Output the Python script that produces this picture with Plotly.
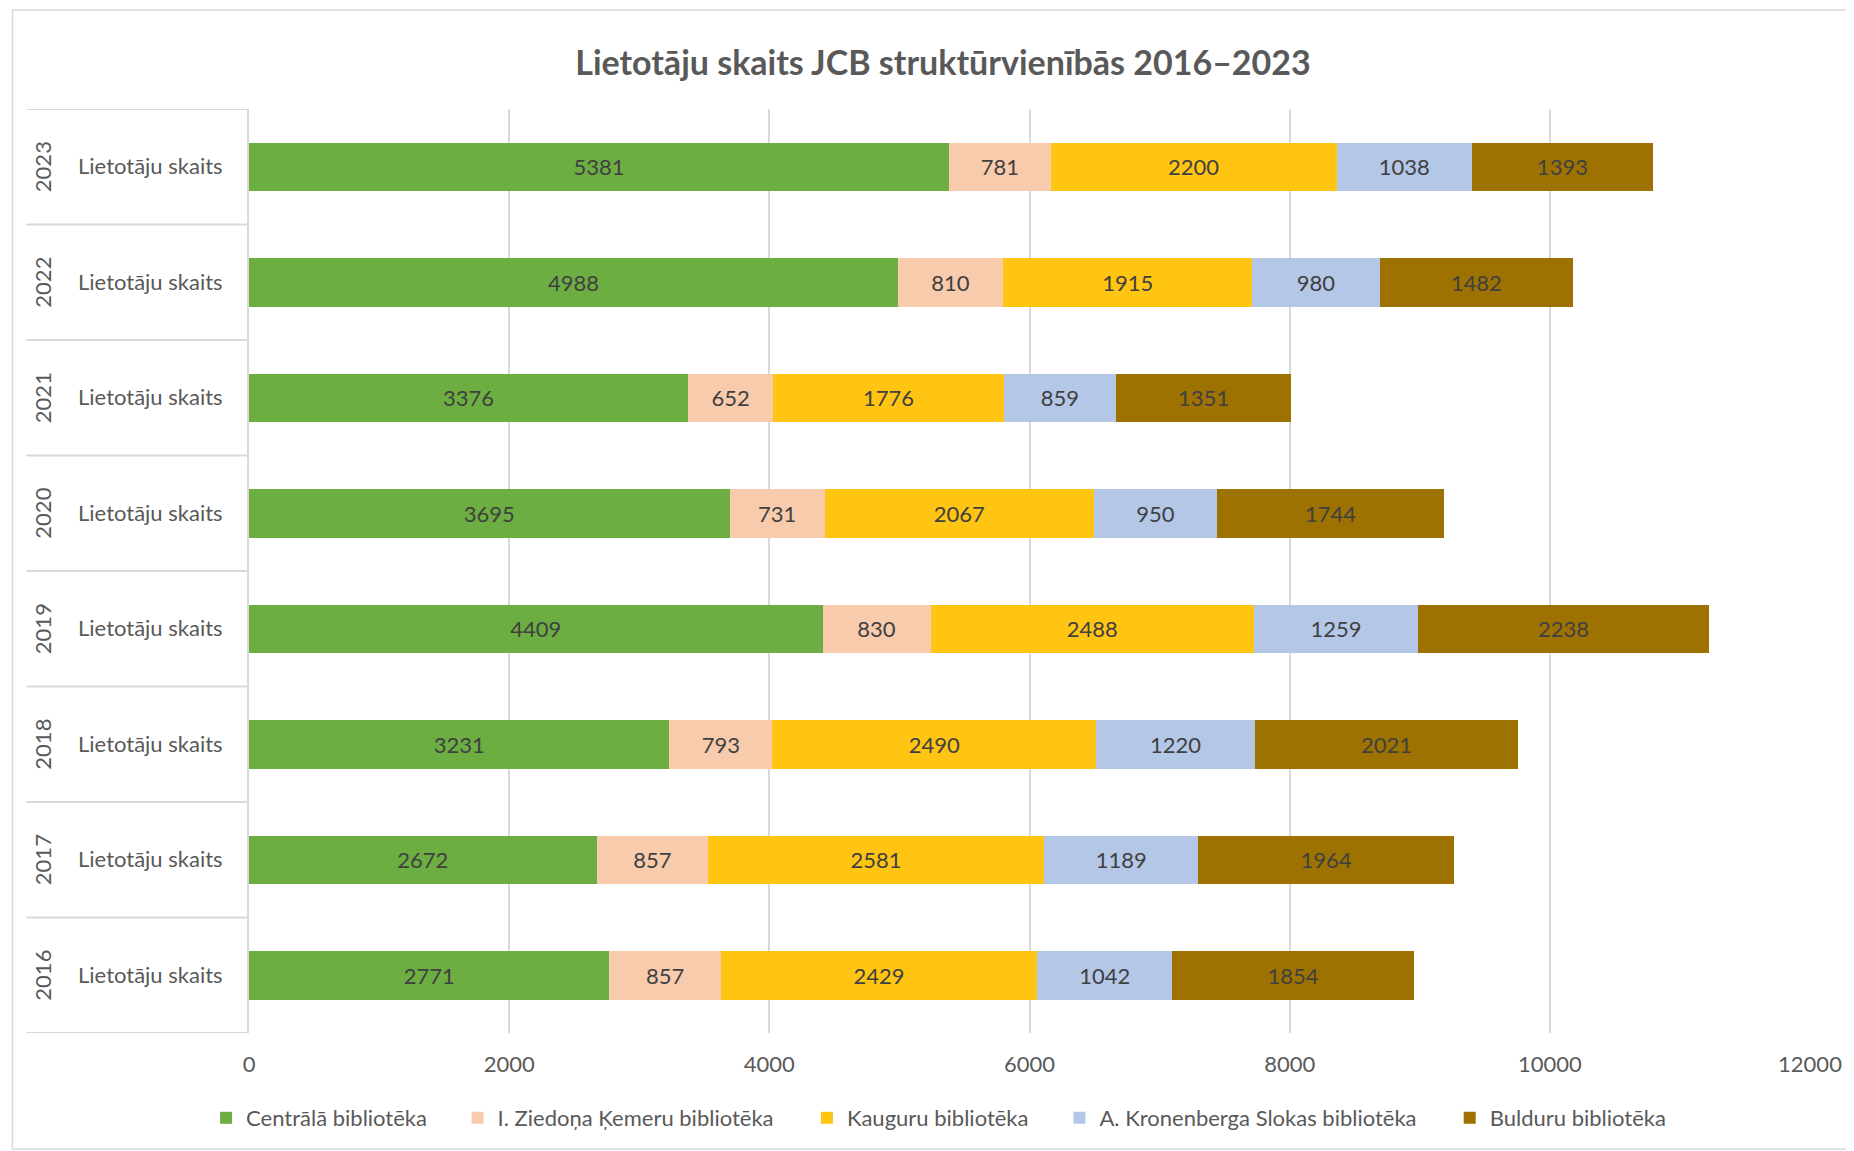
import plotly.graph_objects as go

years = ["2016", "2017", "2018", "2019", "2020", "2021", "2022", "2023"]
row_label = "Lietotāju skaits"
series_names = [
    "Centrālā bibliotēka",
    "I. Ziedoņa Ķemeru bibliotēka",
    "Kauguru bibliotēka",
    "A. Kronenberga Slokas bibliotēka",
    "Bulduru bibliotēka",
]
centrala = [2771, 2672, 3231, 4409, 3695, 3376, 4988, 5381]
kemeru = [857, 857, 793, 830, 731, 652, 810, 781]
kauguru = [2429, 2581, 2490, 2488, 2067, 1776, 1915, 2200]
slokas = [1042, 1189, 1220, 1259, 950, 859, 980, 1038]
bulduru = [1854, 1964, 2021, 2238, 1744, 1351, 1482, 1393]
x_ticks = [0, 2000, 4000, 6000, 8000, 10000, 12000]
x_tick_labels = ["0", "2000", "4000", "6000", "8000", "10000", "12000"]

series_values = [centrala, kemeru, kauguru, slokas, bulduru]
colors = ["#6CAE42", "#F8CBAD", "#FFC512", "#B4C7E7", "#9E7200"]
# page x (px) where each legend entry's text starts
legend_text_x = [244, 496, 846, 1099, 1490]

FONT = "Lato, Calibri, sans-serif"
OFF = 8  # page body margin
W, H = 1854 - OFF, 1151 - OFF
L, T = 249 - OFF, 109 - OFF
R, B = 41, 118
pw, ph = W - L - R, H - T - B

def px_x(ax):  # absolute page x -> paper
    return (ax - OFF - L) / pw

def px_y(ay):  # absolute page y -> paper
    return 1 - (ay - OFF - T) / ph

fig = go.Figure()
legend_layout = {}
for k, (name, vals, col) in enumerate(zip(series_names, series_values, colors)):
    lname = "legend" if k == 0 else f"legend{k + 1}"
    fig.add_trace(go.Bar(
        y=years, x=vals, name=name, orientation="h",
        marker=dict(color=col, line=dict(width=0)),
        text=[str(v) for v in vals], textposition="inside",
        insidetextanchor="middle", textangle=0, constraintext="none",
        textfont=dict(family=FONT, size=22, color="#404040"),
        hoverinfo="x+name", legend=lname, showlegend=True,
    ))
    legend_layout[lname] = dict(
        orientation="h", x=px_x(legend_text_x[k] - 38), xanchor="left",
        y=px_y(1118), yanchor="middle", bgcolor="rgba(0,0,0,0)",
        font=dict(family=FONT, size=22, color="#595959"))

shapes = []
for i in range(len(years) + 1):
    shapes.append(dict(type="line", xref="paper", yref="y",
                       x0=px_x(26), x1=0, y0=i - 0.5, y1=i - 0.5,
                       line=dict(color="#D9D9D9", width=2), layer="below"))
shapes.append(dict(type="rect", xref="paper", yref="paper",
                   x0=px_x(12), x1=px_x(1851),
                   y0=px_y(1149), y1=px_y(10),
                   line=dict(color="#D9D9D9", width=1.5), layer="below"))

annotations = [dict(text=y, x=px_x(42), xref="paper", xanchor="center",
                    y=i, yref="y", yanchor="middle",
                    showarrow=False, textangle=-90,
                    font=dict(family=FONT, size=22, color="#595959"))
               for i, y in enumerate(years)]

fig.update_layout(
    width=W, height=H,
    margin=dict(l=L, r=R, t=T, b=B),
    paper_bgcolor="white", plot_bgcolor="white",
    showlegend=True,
    barmode="stack", bargap=0.58,
    title=dict(text="<b>Lietotāju skaits JCB struktūrvienībās 2016–2023</b>",
               x=(943 - OFF) / W, xref="container", xanchor="center",
               y=1 - (63 - OFF) / H, yref="container", yanchor="middle",
               font=dict(family=FONT, size=34, color="#595959")),
    xaxis=dict(range=[0, 12000], tickvals=x_ticks, ticktext=x_tick_labels,
               showgrid=True, gridcolor="#D9D9D9", gridwidth=1.5,
               zeroline=False, showline=False, ticks="", ticklabelstandoff=16,
               tickfont=dict(family=FONT, size=22, color="#595959")),
    yaxis=dict(type="category", categoryorder="array", categoryarray=years,
               tickvals=years, ticktext=[row_label] * len(years),
               range=[-0.5, len(years) - 0.5],
               showline=True, linecolor="#D9D9D9", linewidth=2,
               showgrid=False, ticks="", ticklabelstandoff=20,
               tickfont=dict(family=FONT, size=22, color="#595959")),
    shapes=shapes, annotations=annotations,
    **legend_layout,
)

fig.write_html("out.html")
